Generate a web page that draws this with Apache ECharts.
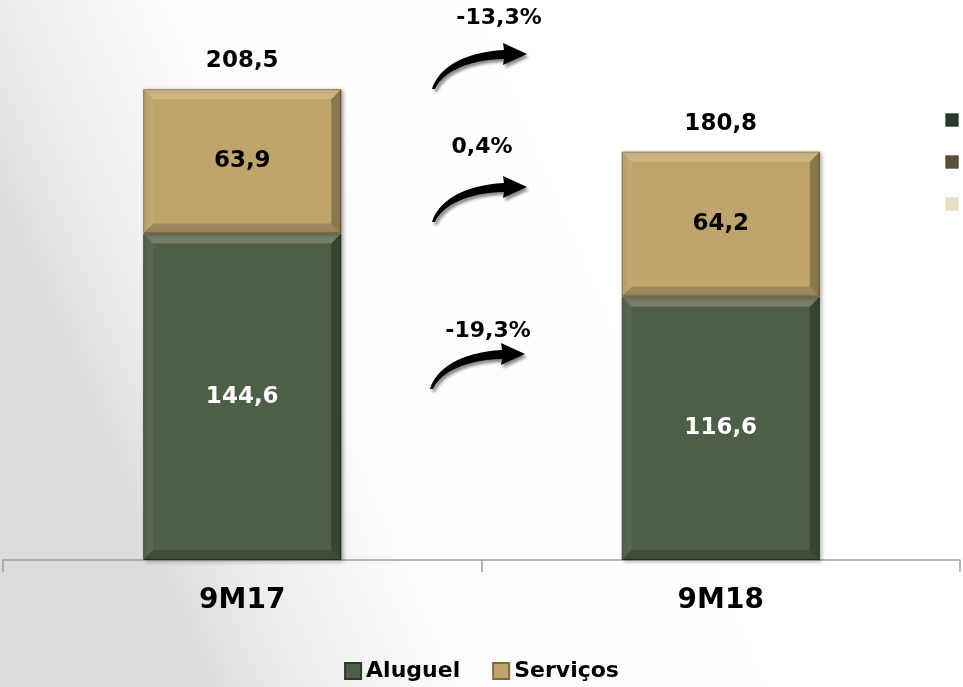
<!DOCTYPE html>
<html><head><meta charset="utf-8">
<script src="https://cdn.jsdelivr.net/npm/echarts@6/dist/echarts.min.js"></script>
<style>html,body{margin:0;padding:0;}#c{width:963px;height:687px;}</style>
</head><body><div id="c"></div>
<script>
const categories = ['9M17', '9M18'];
const aluguel = [144.6, 116.6];
const servicos = [63.9, 64.2];
const changes = ['-13,3%', '0,4%', '-19,3%'];
const seriesNames = ['Aluguel', 'Serviços'];

const totals = aluguel.map((v, i) => +(v + servicos[i]).toFixed(1));
const fmt = v => Number(v).toFixed(1).replace('.', ',');
const FONT = 'DejaVu Sans';
const BAR_W = 198;

// segments for bevel overlay: [categoryIndex, bottomValue, topValue]
const segments = [];
categories.forEach((c, i) => {
  segments.push([i, 0, aluguel[i]]);
  segments.push([i, aluguel[i], aluguel[i] + servicos[i]]);
});

const arrowPath = 'M0 46 C6 26,30 9,72 7 L71 0 L95 11 L71 22 L72 16 C36 17,12 28,3 46 Z';
echarts.graphic.registerShape('curvedArrow', echarts.graphic.extendPath(arrowPath, {}));
function arrow(x, y) {
  return { type: 'curvedArrow', x: x, y: y, shape: {},
    style: { fill: '#000', shadowBlur: 3, shadowColor: 'rgba(0,0,0,0.45)', shadowOffsetX: 2, shadowOffsetY: 3 } };
}
function pct(text, x, y) {
  return { type: 'text', x: x, y: y, style: { text: text, fill: '#000', font: 'bold 22px "' + FONT + '"', textAlign: 'center', textVerticalAlign: 'middle' } };
}
function sq(y, color) {
  return { type: 'rect', shape: { x: 945, y: y, width: 14, height: 14 },
    style: { fill: color, stroke: 'rgba(255,255,255,0.6)', lineWidth: 1 } };
}

function renderBevel(params, api) {
  const i = api.value(0);
  const p0 = api.coord([i, api.value(1)]);
  const p1 = api.coord([i, api.value(2)]);
  const x0 = p0[0] - BAR_W / 2, x1 = p0[0] + BAR_W / 2;
  const yb = p0[1], yt = p1[1];
  const b = 10;
  const poly = (pts, fill) => ({ type: 'polygon', shape: { points: pts }, style: { fill: fill }, silent: true });
  return { type: 'group', children: [
    poly([[x0, yt], [x1, yt], [x1 - b, yt + b], [x0 + b, yt + b]], 'rgba(255,240,200,0.22)'),
    poly([[x0, yt], [x0 + b, yt + b], [x0 + b, yb - b], [x0, yb]], 'rgba(255,255,255,0.06)'),
    poly([[x1, yt], [x1, yb], [x1 - b, yb - b], [x1 - b, yt + b]], 'rgba(0,0,0,0.28)'),
    poly([[x0, yb], [x0 + b, yb - b], [x1 - b, yb - b], [x1, yb]], 'rgba(0,0,0,0.18)')
  ] };
}

const chart = echarts.init(document.getElementById('c'));
chart.setOption({
  backgroundColor: {
    type: 'linear', x: 0, y: 0.3, x2: 0.5, y2: 0,
    colorStops: [{ offset: 0, color: '#dadbda' }, { offset: 0.15, color: '#ececec' }, { offset: 0.45, color: '#fbfbfb' }, { offset: 1, color: '#ffffff' }]
  },
  animation: false,
  grid: { left: 3, right: 3, top: 18, bottom: 127, containLabel: false },
  legend: {
    data: seriesNames, bottom: 0, left: 'center', itemWidth: 16, itemHeight: 16, itemGap: 32,
    icon: 'rect',
    textStyle: { fontFamily: FONT, fontWeight: 'bold', fontSize: 22, color: '#000' }
  },
  xAxis: {
    type: 'category', data: categories,
    axisLine: { lineStyle: { color: '#a0a0a0', width: 1.5 } },
    axisTick: { show: true, length: 12, lineStyle: { color: '#a0a0a0', width: 1.5 } },
    axisLabel: { fontFamily: FONT, fontWeight: 'bold', fontSize: 28, color: '#000', margin: 27 }
  },
  yAxis: { type: 'value', min: 0, max: 240, show: false, splitLine: { show: false } },
  series: [
    {
      name: seriesNames[0], type: 'bar', stack: 's', data: aluguel, barWidth: BAR_W,
      itemStyle: { color: '#4e5f47', borderColor: '#2e3a2b', borderWidth: 1,
        shadowBlur: 4, shadowColor: 'rgba(0,0,0,0.3)', shadowOffsetX: 2, shadowOffsetY: 1 },
      label: { show: true, position: 'inside', formatter: p => fmt(p.value),
        fontFamily: FONT, fontWeight: 'bold', fontSize: 23, color: '#fff' }
    },
    {
      name: seriesNames[1], type: 'bar', stack: 's', data: servicos, barWidth: BAR_W,
      itemStyle: { color: '#bfa56c', borderColor: '#7d6a3f', borderWidth: 1,
        shadowBlur: 4, shadowColor: 'rgba(0,0,0,0.3)', shadowOffsetX: 2, shadowOffsetY: 1 },
      label: { show: true, position: 'inside', formatter: p => fmt(p.value),
        fontFamily: FONT, fontWeight: 'bold', fontSize: 23, color: '#000' }
    },
    {
      name: 'bevel', type: 'custom', data: segments, renderItem: renderBevel, silent: true, z: 3,
      encode: { x: 0, y: 2 }
    },
    {
      name: 'Total', type: 'scatter', data: totals, symbolSize: 1,
      itemStyle: { color: 'rgba(0,0,0,0)', opacity: 1 }, silent: true, z: 5,
      label: { show: true, position: 'top', distance: 16, formatter: p => fmt(p.value),
        fontFamily: FONT, fontWeight: 'bold', fontSize: 23, color: '#000', opacity: 1 }
    }
  ],
  graphic: [
    arrow(432, 43), arrow(432, 176), arrow(430, 343),
    pct(changes[0], 499, 18), pct(changes[1], 482, 147), pct(changes[2], 488, 331),
    sq(113, '#2c3a2b'), sq(155, '#5b4e34'), sq(197, '#e6ddc6')
  ]
});
</script>
</body></html>
